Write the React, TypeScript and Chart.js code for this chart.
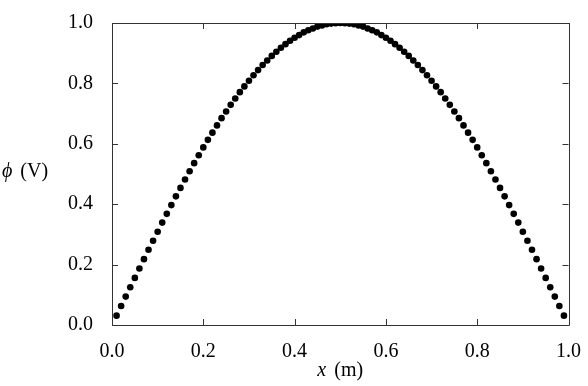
import React, { useEffect, useRef } from "react";
import { Chart, registerables } from "chart.js";

Chart.register(...registerables);

const xValues = [
  0.01, 0.02, 0.03, 0.04, 0.05, 0.06, 0.07, 0.08, 0.09, 0.1,
  0.11, 0.12, 0.13, 0.14, 0.15, 0.16, 0.17, 0.18, 0.19, 0.2,
  0.21, 0.22, 0.23, 0.24, 0.25, 0.26, 0.27, 0.28, 0.29, 0.3,
  0.31, 0.32, 0.33, 0.34, 0.35, 0.36, 0.37, 0.38, 0.39, 0.4,
  0.41, 0.42, 0.43, 0.44, 0.45, 0.46, 0.47, 0.48, 0.49, 0.5,
  0.51, 0.52, 0.53, 0.54, 0.55, 0.56, 0.57, 0.58, 0.59, 0.6,
  0.61, 0.62, 0.63, 0.64, 0.65, 0.66, 0.67, 0.68, 0.69, 0.7,
  0.71, 0.72, 0.73, 0.74, 0.75, 0.76, 0.77, 0.78, 0.79, 0.8,
  0.81, 0.82, 0.83, 0.84, 0.85, 0.86, 0.87, 0.88, 0.89, 0.9,
  0.91, 0.92, 0.93, 0.94, 0.95, 0.96, 0.97, 0.98, 0.99,
];

const phiValues = [
  0.031, 0.063, 0.094, 0.125, 0.156, 0.187, 0.218, 0.249, 0.279, 0.309,
  0.339, 0.368, 0.397, 0.426, 0.454, 0.482, 0.509, 0.536, 0.562, 0.588,
  0.613, 0.637, 0.661, 0.685, 0.707, 0.729, 0.750, 0.771, 0.790, 0.809,
  0.827, 0.844, 0.861, 0.876, 0.891, 0.905, 0.918, 0.930, 0.941, 0.951,
  0.960, 0.969, 0.976, 0.982, 0.988, 0.992, 0.996, 0.998, 0.999, 1.000,
  0.999, 0.998, 0.996, 0.992, 0.988, 0.982, 0.976, 0.969, 0.960, 0.951,
  0.941, 0.930, 0.918, 0.905, 0.891, 0.876, 0.861, 0.844, 0.827, 0.809,
  0.790, 0.771, 0.750, 0.729, 0.707, 0.685, 0.661, 0.637, 0.613, 0.588,
  0.562, 0.536, 0.509, 0.482, 0.454, 0.426, 0.397, 0.368, 0.339, 0.309,
  0.279, 0.249, 0.218, 0.187, 0.156, 0.125, 0.094, 0.063, 0.031,
];

const xTicks = [0, 0.2, 0.4, 0.6, 0.8, 1.0];
const yTicks = [0, 0.2, 0.4, 0.6, 0.8, 1.0];
const xTitle = ["x", "(m)"];
const yTitle = ["ϕ", "(V)"];

const FONT = "'Liberation Serif', 'Times New Roman', serif";

const framePlugin = {
  id: "frameTicks",
  afterDraw(chart: any) {
    const { ctx, chartArea, scales } = chart;
    const { left, right, top, bottom } = chartArea;
    ctx.save();
    ctx.strokeStyle = "#333";
    ctx.lineWidth = 1;
    ctx.beginPath();
    ctx.rect(Math.round(left) + 0.5, Math.round(top) + 0.5, Math.round(right - left), Math.round(bottom - top));
    ctx.stroke();
    const tl = 6;
    ctx.beginPath();
    xTicks.forEach((v) => {
      const px = Math.round(scales.x.getPixelForValue(v)) + 0.5;
      ctx.moveTo(px, bottom);
      ctx.lineTo(px, bottom - tl);
      ctx.moveTo(px, top);
      ctx.lineTo(px, top + tl);
    });
    yTicks.forEach((v) => {
      const py = Math.round(scales.y.getPixelForValue(v)) + 0.5;
      ctx.moveTo(left, py);
      ctx.lineTo(left + tl, py);
      ctx.moveTo(right, py);
      ctx.lineTo(right - tl, py);
    });
    ctx.stroke();

    // titles
    ctx.fillStyle = "#000";
    ctx.textBaseline = "middle";
    const drawTitle = (parts: string[], cx: number, cy: number) => {
      const italic = `italic 20px ${FONT}`;
      const normal = `20px ${FONT}`;
      const gap = 8;
      ctx.font = italic;
      const w1 = ctx.measureText(parts[0]).width;
      ctx.font = normal;
      const w2 = ctx.measureText(parts[1]).width;
      const x0 = cx - (w1 + gap + w2) / 2;
      ctx.textAlign = "left";
      ctx.font = italic;
      ctx.fillText(parts[0], x0, cy);
      ctx.font = normal;
      ctx.fillText(parts[1], x0 + w1 + gap, cy);
    };
    drawTitle(xTitle, (left + right) / 2, 371);
    drawTitle(yTitle, 25, 172);
    ctx.restore();
  },
};

export default function App() {
  const ref = useRef<HTMLCanvasElement>(null);
  useEffect(() => {
    document.body.style.margin = "0";
    const chart = new Chart(ref.current!, {
      type: "scatter",
      data: {
        datasets: [
          {
            data: xValues.map((x, i) => ({ x, y: phiValues[i] })),
            backgroundColor: "#000",
            borderColor: "#000",
            pointRadius: 3.3,
            pointBorderWidth: 0,
          },
        ],
      },
      options: {
        animation: false,
        responsive: false,
        maintainAspectRatio: false,
        plugins: { legend: { display: false }, tooltip: { enabled: false } },
        layout: { padding: { left: 0, right: 17, top: 18, bottom: 0 } },
        scales: {
          x: {
            type: "linear",
            min: 0,
            max: 1,
            afterBuildTicks: (s: any) => {
              s.ticks = xTicks.map((v) => ({ value: v }));
            },
            afterFit: (s: any) => {
              s.height = 61;
            },
            grid: { display: false },
            border: { display: false },
            ticks: {
              color: "#000",
              font: { family: FONT, size: 20 },
              padding: 7,
              maxRotation: 0,
              callback: (v: any) => Number(v).toFixed(1),
            },
          },
          y: {
            type: "linear",
            min: 0,
            max: 1,
            afterBuildTicks: (s: any) => {
              s.ticks = yTicks.map((v) => ({ value: v }));
            },
            afterFit: (s: any) => {
              s.width = 112;
            },
            grid: { display: false },
            border: { display: false },
            ticks: {
              color: "#000",
              font: { family: FONT, size: 20 },
              padding: 11,
              callback: (v: any) => Number(v).toFixed(1),
            },
          },
        },
      },
      plugins: [framePlugin],
    });
    return () => chart.destroy();
  }, []);
  return (
    <div style={{ width: 588, height: 386 }}>
      <canvas ref={ref} width={588} height={386} style={{ width: 588, height: 386 }} />
    </div>
  );
}
